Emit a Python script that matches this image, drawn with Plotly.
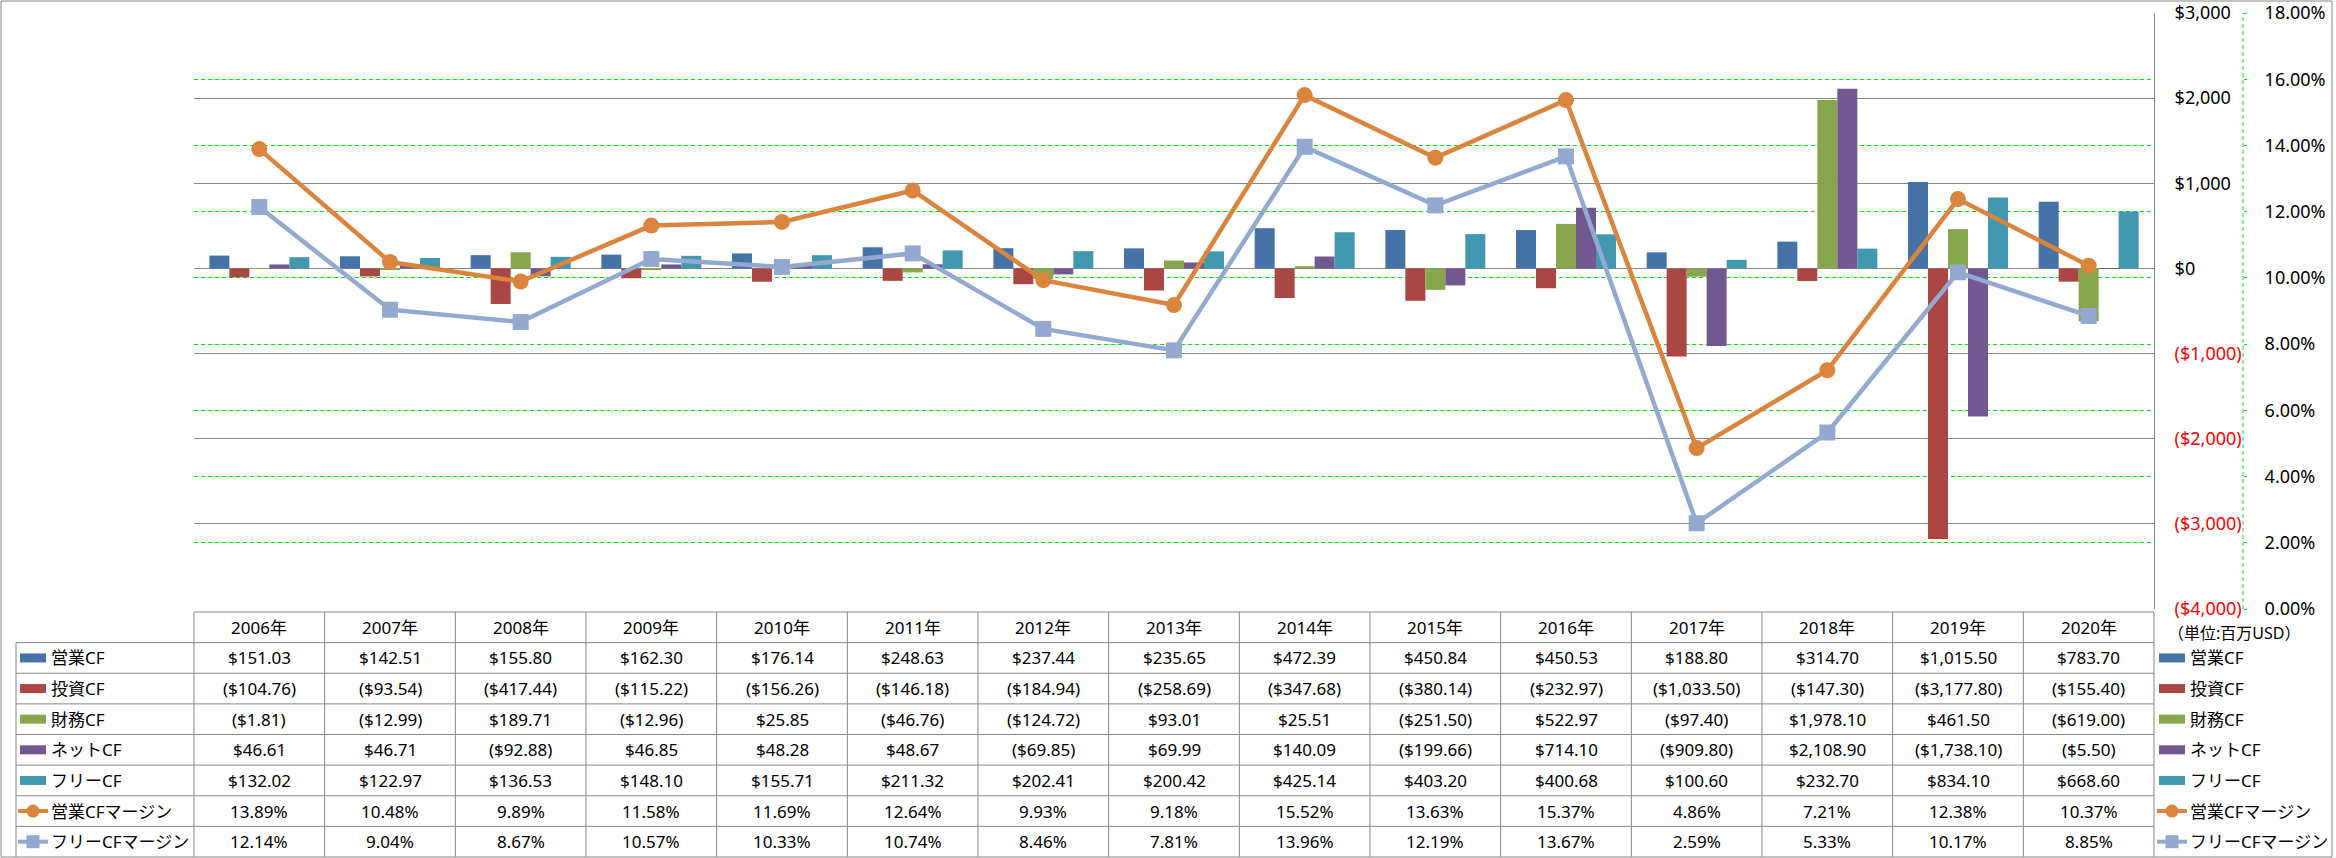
import plotly.graph_objects as go

W, H = 2336, 858

years = ["2006年", "2007年", "2008年", "2009年", "2010年", "2011年", "2012年", "2013年",
         "2014年", "2015年", "2016年", "2017年", "2018年", "2019年", "2020年"]
op_cf = [151.03, 142.51, 155.80, 162.30, 176.14, 248.63, 237.44, 235.65, 472.39, 450.84,
         450.53, 188.80, 314.70, 1015.50, 783.70]
inv_cf = [-104.76, -93.54, -417.44, -115.22, -156.26, -146.18, -184.94, -258.69, -347.68,
          -380.14, -232.97, -1033.50, -147.30, -3177.80, -155.40]
fin_cf = [-1.81, -12.99, 189.71, -12.96, 25.85, -46.76, -124.72, 93.01, 25.51, -251.50,
          522.97, -97.40, 1978.10, 461.50, -619.00]
net_cf = [46.61, 46.71, -92.88, 46.85, 48.28, 48.67, -69.85, 69.99, 140.09, -199.66,
          714.10, -909.80, 2108.90, -1738.10, -5.50]
free_cf = [132.02, 122.97, 136.53, 148.10, 155.71, 211.32, 202.41, 200.42, 425.14, 403.20,
           400.68, 100.60, 232.70, 834.10, 668.60]
op_margin = [13.89, 10.48, 9.89, 11.58, 11.69, 12.64, 9.93, 9.18, 15.52, 13.63, 15.37,
             4.86, 7.21, 12.38, 10.37]
free_margin = [12.14, 9.04, 8.67, 10.57, 10.33, 10.74, 8.46, 7.81, 13.96, 12.19, 13.67,
               2.59, 5.33, 10.17, 8.85]

bar_names = ["営業CF", "投資CF", "財務CF", "ネットCF", "フリーCF"]
bar_values = [op_cf, inv_cf, fin_cf, net_cf, free_cf]
bar_colors = ["#4572A7", "#AA4643", "#89A54E", "#71588F", "#4198AF"]
line_names = ["営業CFマージン", "フリーCFマージン"]
line_values = [op_margin, free_margin]
line_colors = ["#DB843D", "#93A9CF"]
line_symbols = ["circle", "square"]

usd_ticks = [-4000, -3000, -2000, -1000, 0, 1000, 2000, 3000]
pct_ticks = [0, 2, 4, 6, 8, 10, 12, 14, 16, 18]
unit_label = "（単位:百万USD）"

FONT = "Noto Sans, Noto Sans CJK JP, sans-serif"
GRAY = "#868686"
GREEN = "#00E600"


def px_x(x):
    return x / W


def px_y(y):
    return 1 - y / H


def fmt_usd(v):
    s = "${:,.2f}".format(abs(v))
    return "(" + s + ")" if v < 0 else s


def fmt_tick(v):
    s = "${:,.0f}".format(abs(v))
    if v < 0:
        return '<span style="color:#FF0000">(' + s + ')</span>'
    return s


# layout geometry (pixels)
PL, PR, PT, PB = 194, 2154, 13, 609
TT, TB = 612, 857
LBL_L = 16
NROWS = 8
ROW_H = (TB - TT) / NROWS
COL_W = (PR - PL) / len(years)

fig = go.Figure()
for name, vals, col in zip(bar_names, bar_values, bar_colors):
    fig.add_trace(go.Bar(x=years, y=vals, name=name, marker=dict(color=col, line=dict(width=0)),
                         yaxis="y"))
for name, vals, col, sym in zip(line_names, line_values, line_colors, line_symbols):
    fig.add_trace(go.Scatter(x=years, y=vals, name=name, mode="lines+markers", yaxis="y2",
                             line=dict(color=col, width=4.5),
                             marker=dict(symbol=sym, size=16, color=col)))

shapes = []
annotations = []

# outer frame
shapes.append(dict(type="rect", xref="paper", yref="paper", x0=px_x(1), x1=px_x(2332),
                   y0=px_y(857), y1=px_y(1), line=dict(color=GRAY, width=1)))
# dashed % axis line
AX2 = 2243
shapes.append(dict(type="line", xref="paper", yref="paper", x0=px_x(AX2), x1=px_x(AX2),
                   y0=px_y(PB), y1=px_y(PT), line=dict(color=GREEN, width=1, dash="4px,3px")))

# table lines
shapes.append(dict(type="line", xref="paper", yref="paper", x0=px_x(PL), x1=px_x(PR),
                   y0=px_y(TT), y1=px_y(TT), line=dict(color=GRAY, width=1)))
for r in range(1, NROWS):
    yy = TT + r * ROW_H
    shapes.append(dict(type="line", xref="paper", yref="paper", x0=px_x(LBL_L), x1=px_x(PR),
                       y0=px_y(yy), y1=px_y(yy), line=dict(color=GRAY, width=1)))
shapes.append(dict(type="line", xref="paper", yref="paper", x0=px_x(LBL_L), x1=px_x(LBL_L),
                   y0=px_y(TT + ROW_H), y1=px_y(TB), line=dict(color=GRAY, width=1)))
for c in range(len(years) + 1):
    xx = PL + c * COL_W
    shapes.append(dict(type="line", xref="paper", yref="paper", x0=px_x(xx), x1=px_x(xx),
                       y0=px_y(TT), y1=px_y(TB), line=dict(color=GRAY, width=1)))

TFONT = dict(family=FONT, size=17, color="#000000")

# header row
for yr in years:
    annotations.append(dict(x=yr, xref="x", y=px_y(TT + ROW_H / 2), yref="paper", text=yr,
                            showarrow=False, font=TFONT, xanchor="center", yanchor="middle"))

rows = []
for name, vals, col in zip(bar_names, bar_values, bar_colors):
    rows.append((name, [fmt_usd(v) for v in vals], col, "bar", None))
for name, vals, col, sym in zip(line_names, line_values, line_colors, line_symbols):
    rows.append((name, ["{:.2f}%".format(v) for v in vals], col, "line", sym))


def add_key(x0, yc, col, kind, sym):
    if kind == "bar":
        shapes.append(dict(type="rect", xref="paper", yref="paper", x0=px_x(x0), x1=px_x(x0 + 26),
                           y0=px_y(yc + 4.5), y1=px_y(yc - 4.5), fillcolor=col,
                           line=dict(width=0)))
    else:
        shapes.append(dict(type="line", xref="paper", yref="paper", x0=px_x(x0 - 2),
                           x1=px_x(x0 + 28), y0=px_y(yc), y1=px_y(yc),
                           line=dict(color=col, width=4)))
        cx = x0 + 13
        r = 6.5
        shapes.append(dict(type="circle" if sym == "circle" else "rect", xref="paper",
                           yref="paper", x0=px_x(cx - r), x1=px_x(cx + r), y0=px_y(yc + r),
                           y1=px_y(yc - r), fillcolor=col, line=dict(width=0)))


for i, (name, texts, col, kind, sym) in enumerate(rows):
    yc = TT + (i + 1.5) * ROW_H
    add_key(20, yc, col, kind, sym)
    annotations.append(dict(x=px_x(49), xref="paper", y=px_y(yc), yref="paper", text=name,
                            showarrow=False, font=TFONT, xanchor="left", yanchor="middle"))
    for yr, t in zip(years, texts):
        annotations.append(dict(x=yr, xref="x", y=px_y(yc), yref="paper", text=t,
                                showarrow=False, font=TFONT, xanchor="center",
                                yanchor="middle"))
    # right legend
    add_key(2159, yc, col, kind, sym)
    annotations.append(dict(x=px_x(2188), xref="paper", y=px_y(yc), yref="paper", text=name,
                            showarrow=False, font=TFONT, xanchor="left", yanchor="middle"))

annotations.append(dict(x=px_x(2166), xref="paper", y=px_y(633), yref="paper", text=unit_label,
                        showarrow=False, font=dict(family=FONT, size=16, color="#000000"),
                        xanchor="left", yanchor="middle"))

fig.update_layout(
    template="none",
    width=W, height=H,
    margin=dict(l=0, r=0, t=0, b=0, pad=0),
    paper_bgcolor="#FFFFFF", plot_bgcolor="rgba(0,0,0,0)",
    showlegend=False,
    barmode="group", bargap=0.235, bargroupgap=0,
    font=dict(family=FONT, size=17, color="#000000"),
    xaxis=dict(domain=[px_x(PL), px_x(PR)], type="category", categoryorder="array",
               categoryarray=years, range=[-0.5, len(years) - 0.5], showticklabels=False,
               showgrid=False, zeroline=False, showline=False, ticks="", automargin=False),
    yaxis=dict(domain=[px_y(PB), px_y(PT)], range=[-4000, 3000], side="right", anchor="x",
               tickvals=usd_ticks, ticktext=[fmt_tick(v) for v in usd_ticks],
               showgrid=True, gridcolor=GRAY, gridwidth=1, zeroline=False,
               showline=True, linecolor=GRAY, linewidth=1, ticks="",
               ticklabelstandoff=16, automargin=False,
               tickfont=dict(family=FONT, size=18, color="#000000")),
    yaxis2=dict(range=[0, 18], overlaying="y", side="right", anchor="free",
                position=px_x(AX2), tickvals=pct_ticks,
                ticktext=["{:.2f}%".format(v) for v in pct_ticks],
                showgrid=True, gridcolor=GREEN, gridwidth=1, griddash="4px,3px",
                zeroline=False, showline=False, ticks="outside", ticklen=3,
                tickcolor=GREEN, tickwidth=1, ticklabelstandoff=14, automargin=False,
                tickfont=dict(family=FONT, size=18, color="#000000")),
    shapes=shapes,
    annotations=annotations,
)

fig.write_html("out.html", config={"displayModeBar": False},
               post_script="document.body.style.margin='0';")
